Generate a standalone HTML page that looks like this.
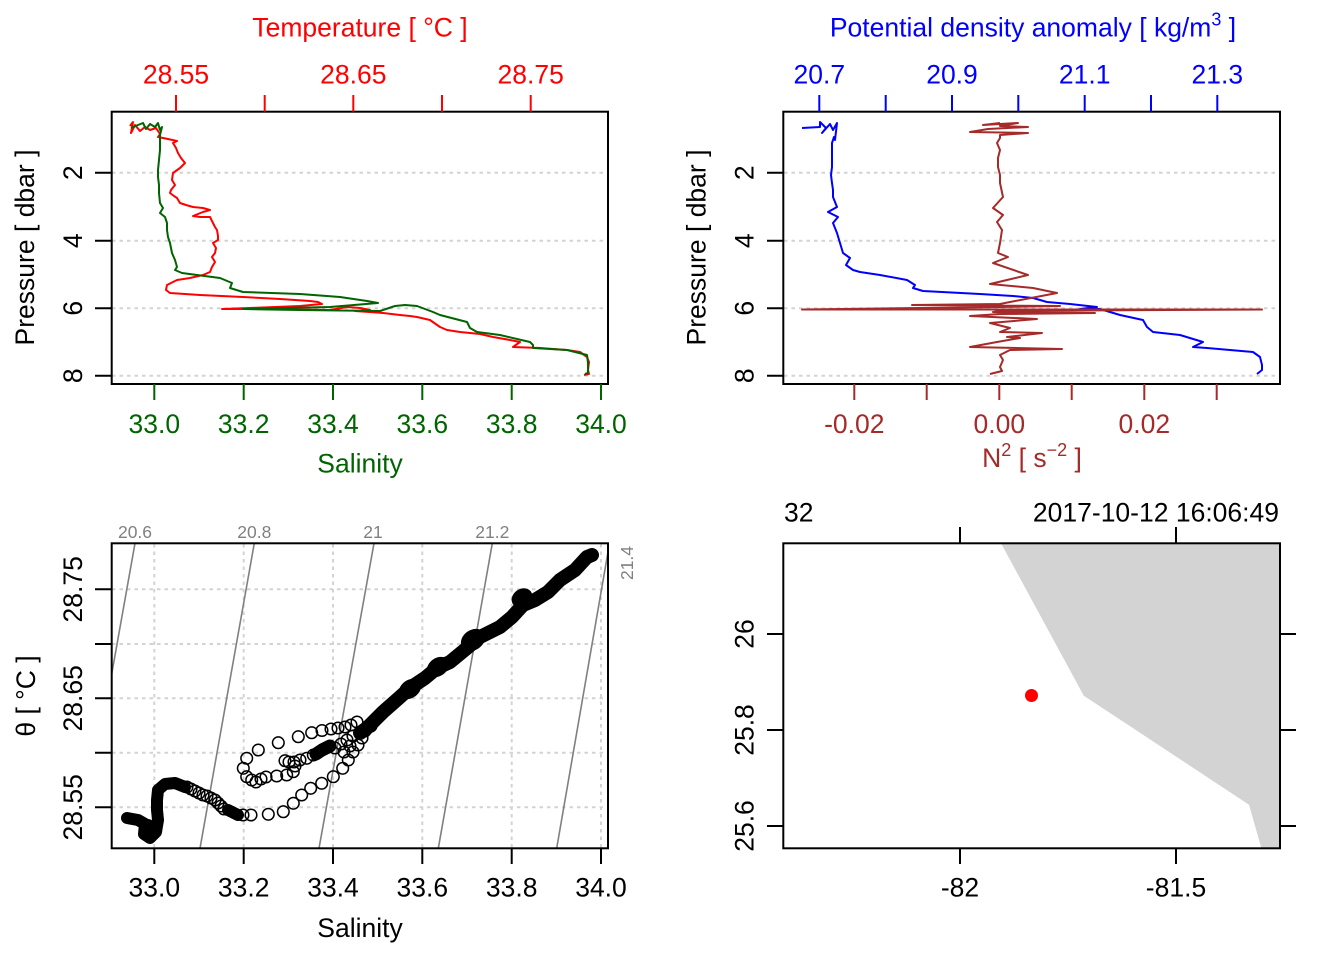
<!DOCTYPE html>
<html><head><meta charset="utf-8"><style>
html,body{margin:0;padding:0;background:#fff;}
svg{display:block;}
text{font-family:"Liberation Sans","DejaVu Sans",sans-serif;}
</style></head><body>
<svg width="1344" height="960" viewBox="0 0 1344 960" xmlns="http://www.w3.org/2000/svg">
<rect x="0" y="0" width="1344" height="960" fill="#fff"/>

<!-- ============ PANEL 1: T & S profile ============ -->
<g stroke="#d3d3d3" stroke-width="2" stroke-dasharray="3.5 4" fill="none">
  <line x1="112" y1="172.7" x2="608" y2="172.7"/>
  <line x1="112" y1="240.7" x2="608" y2="240.7"/>
  <line x1="112" y1="308.3" x2="608" y2="308.3"/>
  <line x1="112" y1="375.7" x2="608" y2="375.7"/>
</g>
<polyline fill="none" stroke="#ff0000" stroke-width="2" stroke-linejoin="round" points="
130,126 133,122 131,133 135,125 140,131 145,127 150,130 156,128 160,134 158,137 168,139 177,141 173,143 176,148 178,153 181,158 185,163 180,168 173,173 172,180 175,185 171,190 170,193 174,196 177,198 180,203 186,205 193,207 203,208 210,210 203,212 193,216 200,217 210,217 213,223 215,227 217,230 218,236 218,240 213,243 216,248 215,253 212,257 215,262 212,267 210,272 203,275 190,278 177,280 167,285 166,290 170,293 200,295 243,297 280,299 310,301 318,302 322,304 300,306 250,308 222,309 260,309 330,310 347,307 360,308 370,310 355,311 383,313 375,312 400,315 410,316 417,317 430,320 440,327 447,330 460,332 480,334 493,337 510,340 520,342 513,347 540,348 567,350 580,352 587,357 589,362 588,370 589,374 584,375"/>
<polyline fill="none" stroke="#006400" stroke-width="2" stroke-linejoin="round" points="
131,128 138,125 143,123 146,129 150,124 155,127 158,123 160,130 162,127 160,135 160,137 160,143 160,150 159,160 158,170 158,177 159,185 159,193 160,203 163,208 160,213 165,217 167,223 167,230 168,237 170,243 172,253 175,260 177,267 175,270 182,273 197,275 220,278 232,283 230,288 243,292 300,294 340,297 367,301 378,303 330,307 243,309 300,310 380,311 395,306 405,305 417,306 433,312 440,315 467,322 470,328 477,332 500,335 530,342 533,345 533,348 567,350 587,355 588,363 588,373 585,374"/>
<rect x="111.7" y="111.7" width="496.3" height="272.3" fill="none" stroke="#000" stroke-width="2"/>
<g stroke="#000" stroke-width="2">
  <line x1="95" y1="172.7" x2="111.7" y2="172.7"/>
  <line x1="95" y1="240.7" x2="111.7" y2="240.7"/>
  <line x1="95" y1="308.3" x2="111.7" y2="308.3"/>
  <line x1="95" y1="375.7" x2="111.7" y2="375.7"/>
</g>
<g font-size="26.5" text-anchor="middle" fill="#000">
  <text transform="translate(82,172.7) rotate(-90)">2</text>
  <text transform="translate(82,240.7) rotate(-90)">4</text>
  <text transform="translate(82,308.3) rotate(-90)">6</text>
  <text transform="translate(82,375.7) rotate(-90)">8</text>
  <text transform="translate(34,247.5) rotate(-90)">Pressure [ dbar ]</text>
</g>
<g stroke="#ff0000" stroke-width="2">
  <line x1="176" y1="95" x2="176" y2="111.7"/>
  <line x1="264.7" y1="95" x2="264.7" y2="111.7"/>
  <line x1="353.3" y1="95" x2="353.3" y2="111.7"/>
  <line x1="442" y1="95" x2="442" y2="111.7"/>
  <line x1="530.7" y1="95" x2="530.7" y2="111.7"/>
</g>
<g font-size="26.5" text-anchor="middle" fill="#ff0000">
  <text x="176" y="83.5">28.55</text>
  <text x="353.3" y="83.5">28.65</text>
  <text x="530.7" y="83.5">28.75</text>
  <text x="360" y="36.5">Temperature [ °C ]</text>
</g>
<g stroke="#006400" stroke-width="2">
  <line x1="154.3" y1="384" x2="154.3" y2="400"/>
  <line x1="243.7" y1="384" x2="243.7" y2="400"/>
  <line x1="333" y1="384" x2="333" y2="400"/>
  <line x1="422.3" y1="384" x2="422.3" y2="400"/>
  <line x1="511.7" y1="384" x2="511.7" y2="400"/>
  <line x1="601" y1="384" x2="601" y2="400"/>
</g>
<g font-size="26.5" text-anchor="middle" fill="#006400">
  <text x="154.3" y="433">33.0</text>
  <text x="243.7" y="433">33.2</text>
  <text x="333" y="433">33.4</text>
  <text x="422.3" y="433">33.6</text>
  <text x="511.7" y="433">33.8</text>
  <text x="601" y="433">34.0</text>
  <text x="360" y="472.5">Salinity</text>
</g>

<!-- ============ PANEL 2: sigma & N2 ============ -->
<g stroke="#d3d3d3" stroke-width="2" stroke-dasharray="3.5 4" fill="none">
  <line x1="784" y1="172.7" x2="1280" y2="172.7"/>
  <line x1="784" y1="240.7" x2="1280" y2="240.7"/>
  <line x1="784" y1="308.3" x2="1280" y2="308.3"/>
  <line x1="784" y1="375.7" x2="1280" y2="375.7"/>
</g>
<polyline fill="none" stroke="#0000ff" stroke-width="2" stroke-linejoin="round" points="
802,128 820,127 820,122 826,128 822,133 830,124 833,130 837,123 835,140 834,137 832,143 832,155 832,167 831,175 832,183 833,190 833,197 837,207 828,212 838,217 833,223 835,228 837,233 840,243 843,253 850,258 846,265 853,270 860,272 880,275 907,280 915,285 913,288 923,291 980,294 1013,296 1033,298 1047,302 1070,304 1097,307 1080,309 1100,309 1110,312 1120,315 1143,320 1147,327 1153,332 1180,335 1203,342 1193,347 1207,348 1253,352 1260,357 1262,365 1262,370 1257,374"/>
<polyline fill="none" stroke="#a52a2a" stroke-width="2" stroke-linejoin="round" points="
1000,123 983,125 1018,123 1000,126 1028,127 988,129 970,132 1028,133 1000,135 1000,138 997,143 1000,150 998,158 998,167 1000,175 1000,183 1003,197 993,208 1003,215 997,222 1002,230 1000,243 998,253 1008,257 993,263 1028,275 1007,280 990,284 1033,288 1057,293 1010,302 1000,304 912,305 1060,306 1000,307 802,309.5 1262,309.5 1000,311 993,312 1095,313 1000,314 970,316 1037,319 990,323 1010,328 1000,332 1042,333 1007,337 1020,338 997,342 970,347 1062,349 1010,350 1000,355 1003,360 1000,367 1002,371 990,374"/>
<rect x="783.3" y="111.7" width="496.7" height="272.3" fill="none" stroke="#000" stroke-width="2"/>
<g stroke="#000" stroke-width="2">
  <line x1="767" y1="172.7" x2="783.3" y2="172.7"/>
  <line x1="767" y1="240.7" x2="783.3" y2="240.7"/>
  <line x1="767" y1="308.3" x2="783.3" y2="308.3"/>
  <line x1="767" y1="375.7" x2="783.3" y2="375.7"/>
</g>
<g font-size="26.5" text-anchor="middle" fill="#000">
  <text transform="translate(753.6,172.7) rotate(-90)">2</text>
  <text transform="translate(753.6,240.7) rotate(-90)">4</text>
  <text transform="translate(753.6,308.3) rotate(-90)">6</text>
  <text transform="translate(753.6,375.7) rotate(-90)">8</text>
  <text transform="translate(705.6,247.5) rotate(-90)">Pressure [ dbar ]</text>
</g>
<g stroke="#0000ff" stroke-width="2">
  <line x1="819.3" y1="95" x2="819.3" y2="111.7"/>
  <line x1="885.7" y1="95" x2="885.7" y2="111.7"/>
  <line x1="952" y1="95" x2="952" y2="111.7"/>
  <line x1="1018.3" y1="95" x2="1018.3" y2="111.7"/>
  <line x1="1084.7" y1="95" x2="1084.7" y2="111.7"/>
  <line x1="1151" y1="95" x2="1151" y2="111.7"/>
  <line x1="1217.3" y1="95" x2="1217.3" y2="111.7"/>
</g>
<g font-size="26.5" text-anchor="middle" fill="#0000ff">
  <text x="819.3" y="83.5">20.7</text>
  <text x="952" y="83.5">20.9</text>
  <text x="1084.7" y="83.5">21.1</text>
  <text x="1217.3" y="83.5">21.3</text>
  <text x="1033" y="36.5">Potential density anomaly [ kg/m<tspan font-size="18" dy="-11">3</tspan><tspan dy="11"> ]</tspan></text>
</g>
<g stroke="#a52a2a" stroke-width="2">
  <line x1="854.3" y1="384" x2="854.3" y2="400"/>
  <line x1="926.7" y1="384" x2="926.7" y2="400"/>
  <line x1="999.3" y1="384" x2="999.3" y2="400"/>
  <line x1="1071.7" y1="384" x2="1071.7" y2="400"/>
  <line x1="1144.3" y1="384" x2="1144.3" y2="400"/>
  <line x1="1216.7" y1="384" x2="1216.7" y2="400"/>
</g>
<g font-size="26.5" text-anchor="middle" fill="#a52a2a">
  <text x="854.3" y="433">-0.02</text>
  <text x="999.3" y="433">0.00</text>
  <text x="1144.3" y="433">0.02</text>
  <text x="1032" y="467">N<tspan font-size="18" dy="-11">2</tspan><tspan dy="11"> [ s</tspan><tspan font-size="18" dy="-11">−2</tspan><tspan dy="11"> ]</tspan></text>
</g>

<!-- ============ PANEL 3: TS diagram ============ -->
<g stroke="#d3d3d3" stroke-width="2" stroke-dasharray="3.5 4" fill="none">
  <line x1="112" y1="589.3" x2="608" y2="589.3"/>
  <line x1="112" y1="644" x2="608" y2="644"/>
  <line x1="112" y1="698.3" x2="608" y2="698.3"/>
  <line x1="112" y1="752.7" x2="608" y2="752.7"/>
  <line x1="112" y1="807.3" x2="608" y2="807.3"/>
  <line x1="154.3" y1="544" x2="154.3" y2="848"/>
  <line x1="243.7" y1="544" x2="243.7" y2="848"/>
  <line x1="333" y1="544" x2="333" y2="848"/>
  <line x1="422.3" y1="544" x2="422.3" y2="848"/>
  <line x1="511.7" y1="544" x2="511.7" y2="848"/>
  <line x1="601" y1="544" x2="601" y2="848"/>
</g>
<g stroke="#808080" stroke-width="1.6" fill="none">
  <line x1="135" y1="543.3" x2="111.7" y2="674"/>
  <line x1="254.3" y1="543.3" x2="200" y2="848.3"/>
  <line x1="374" y1="543.3" x2="319" y2="848.3"/>
  <line x1="492.3" y1="543.3" x2="438.3" y2="848.3"/>
  <line x1="608" y1="552" x2="556.7" y2="848.3"/>
</g>
<g font-size="17.5" fill="#808080" text-anchor="middle">
  <text x="135" y="538">20.6</text>
  <text x="254.3" y="538">20.8</text>
  <text x="373" y="538">21</text>
  <text x="492.3" y="538">21.2</text>
  <text transform="translate(633,563) rotate(-90)">21.4</text>
</g>
<g fill="none" stroke="#000" stroke-linecap="round" stroke-linejoin="round">
  <polyline stroke-width="12" points="127,818 138,820 145,824 144,834 150,838 156,832 158,820 157,810 157,800 158,790 165,784 175,783 185,787"/>
  <polyline stroke-width="13" points="316,754 322,750 330,746"/>
  <polyline stroke-width="12" points="228,810 238,815"/>
  <polyline stroke-width="14" points="360,733 367,728 383,712 400,697 410,688 425,678 437,668 450,662 467,648 480,637 500,627 512,617 523,605 535,600 548,592 560,580 575,570 587,557 592,555"/>
</g>
<g fill="#000">
  <ellipse cx="148" cy="830" rx="9" ry="11"/>
  <ellipse cx="410" cy="689" rx="12" ry="9" transform="rotate(-35 410 689)"/>
  <ellipse cx="438" cy="667" rx="12" ry="9" transform="rotate(-35 438 667)"/>
  <ellipse cx="473" cy="640" rx="13" ry="10" transform="rotate(-35 473 640)"/>
  <ellipse cx="522" cy="598" rx="11" ry="9" transform="rotate(-35 522 598)"/>
  <ellipse cx="588" cy="557" rx="7" ry="6.5"/>
</g>
<g fill="none" stroke="#000" stroke-width="1.5">
  <circle cx="187" cy="787" r="5.8"/><circle cx="191" cy="789" r="5.8"/><circle cx="195" cy="791" r="5.8"/>
  <circle cx="199" cy="793" r="5.8"/><circle cx="203" cy="795" r="5.8"/><circle cx="207" cy="796" r="5.8"/>
  <circle cx="211" cy="798" r="5.8"/><circle cx="215" cy="800" r="5.8"/><circle cx="218" cy="803" r="5.8"/>
  <circle cx="221" cy="806" r="5.8"/><circle cx="224" cy="809" r="5.8"/>
  <circle cx="243" cy="815" r="5.8"/><circle cx="251" cy="815" r="5.8"/><circle cx="268.3" cy="814.3" r="5.8"/>
  <circle cx="283.3" cy="811.7" r="5.8"/><circle cx="293.3" cy="803.3" r="5.8"/><circle cx="301.7" cy="795" r="5.8"/>
  <circle cx="310.7" cy="788.3" r="5.8"/><circle cx="321.7" cy="783.3" r="5.8"/><circle cx="333.3" cy="776.7" r="5.8"/>
  <circle cx="342.7" cy="768.3" r="5.8"/><circle cx="348.3" cy="760" r="5.8"/><circle cx="353" cy="752" r="5.8"/>
  <circle cx="358" cy="745" r="5.8"/><circle cx="362" cy="738" r="5.8"/>
  <circle cx="243.3" cy="768.3" r="5.8"/><circle cx="246.7" cy="758.3" r="5.8"/><circle cx="258.3" cy="750" r="5.8"/>
  <circle cx="278.3" cy="742.7" r="5.8"/><circle cx="298.3" cy="736.7" r="5.8"/><circle cx="311.7" cy="732.7" r="5.8"/>
  <circle cx="322" cy="730.5" r="5.8"/><circle cx="331" cy="729" r="5.8"/><circle cx="338" cy="728" r="5.8"/>
  <circle cx="345" cy="727" r="5.8"/><circle cx="351" cy="725" r="5.8"/><circle cx="357" cy="722" r="5.8"/>
  <circle cx="246.7" cy="776.7" r="5.8"/><circle cx="251.7" cy="780" r="5.8"/><circle cx="256" cy="782" r="5.8"/>
  <circle cx="261" cy="779" r="5.8"/><circle cx="266" cy="777" r="5.8"/><circle cx="276.7" cy="776" r="5.8"/>
  <circle cx="286.7" cy="775" r="5.8"/><circle cx="293.3" cy="771.7" r="5.8"/><circle cx="295" cy="766" r="5.8"/>
  <circle cx="285" cy="760.7" r="5.8"/><circle cx="289" cy="762" r="5.8"/><circle cx="294" cy="762" r="5.8"/>
  <circle cx="300" cy="760" r="5.8"/><circle cx="306.7" cy="758.3" r="5.8"/><circle cx="313.3" cy="755" r="5.8"/>
  <circle cx="335" cy="748" r="5.8"/><circle cx="341" cy="744" r="5.8"/><circle cx="347" cy="740" r="5.8"/>
  <circle cx="353" cy="736" r="5.8"/><circle cx="344" cy="752" r="5.8"/><circle cx="350" cy="746" r="5.8"/>
  <circle cx="365" cy="731" r="5.8"/><circle cx="371" cy="726" r="5.8"/>
</g>
<rect x="111.7" y="543.3" width="496.3" height="305" fill="none" stroke="#000" stroke-width="2"/>
<g stroke="#000" stroke-width="2">
  <line x1="95" y1="589.3" x2="111.7" y2="589.3"/>
  <line x1="95" y1="644" x2="111.7" y2="644"/>
  <line x1="95" y1="698.3" x2="111.7" y2="698.3"/>
  <line x1="95" y1="752.7" x2="111.7" y2="752.7"/>
  <line x1="95" y1="807.3" x2="111.7" y2="807.3"/>
  <line x1="154.3" y1="848.3" x2="154.3" y2="864"/>
  <line x1="243.7" y1="848.3" x2="243.7" y2="864"/>
  <line x1="333" y1="848.3" x2="333" y2="864"/>
  <line x1="422.3" y1="848.3" x2="422.3" y2="864"/>
  <line x1="511.7" y1="848.3" x2="511.7" y2="864"/>
  <line x1="601" y1="848.3" x2="601" y2="864"/>
</g>
<g font-size="26.5" text-anchor="middle" fill="#000">
  <text transform="translate(82,589.3) rotate(-90)">28.75</text>
  <text transform="translate(82,698.3) rotate(-90)">28.65</text>
  <text transform="translate(82,807.3) rotate(-90)">28.55</text>
  <text transform="translate(35,696) rotate(-90)">θ [ °C ]</text>
  <text x="154.3" y="896.5">33.0</text>
  <text x="243.7" y="896.5">33.2</text>
  <text x="333" y="896.5">33.4</text>
  <text x="422.3" y="896.5">33.6</text>
  <text x="511.7" y="896.5">33.8</text>
  <text x="601" y="896.5">34.0</text>
  <text x="360" y="937">Salinity</text>
</g>

<!-- ============ PANEL 4: map ============ -->
<polygon points="1001,543.3 1083.8,695.7 1249,804.7 1261.4,848.3 1280,848.3 1280,543.3" fill="#d3d3d3"/>
<circle cx="1031.5" cy="695.5" r="6.5" fill="#ff0000"/>
<rect x="783.3" y="543.3" width="496.7" height="305" fill="none" stroke="#000" stroke-width="2"/>
<g stroke="#000" stroke-width="2">
  <line x1="960" y1="527" x2="960" y2="543.3"/>
  <line x1="1176" y1="527" x2="1176" y2="543.3"/>
  <line x1="960" y1="848.3" x2="960" y2="864"/>
  <line x1="1176" y1="848.3" x2="1176" y2="864"/>
  <line x1="767" y1="634" x2="783.3" y2="634"/>
  <line x1="767" y1="730" x2="783.3" y2="730"/>
  <line x1="767" y1="826" x2="783.3" y2="826"/>
  <line x1="1280" y1="634" x2="1296" y2="634"/>
  <line x1="1280" y1="730" x2="1296" y2="730"/>
  <line x1="1280" y1="826" x2="1296" y2="826"/>
</g>
<g font-size="26.5" fill="#000">
  <text x="784" y="521.5">32</text>
  <text x="1279" y="521.5" text-anchor="end">2017-10-12 16:06:49</text>
  <text x="960" y="896.5" text-anchor="middle">-82</text>
  <text x="1176" y="896.5" text-anchor="middle">-81.5</text>
  <text transform="translate(753.6,634) rotate(-90)" text-anchor="middle">26</text>
  <text transform="translate(753.6,730) rotate(-90)" text-anchor="middle">25.8</text>
  <text transform="translate(753.6,826) rotate(-90)" text-anchor="middle">25.6</text>
</g>
</svg>
</body></html>
